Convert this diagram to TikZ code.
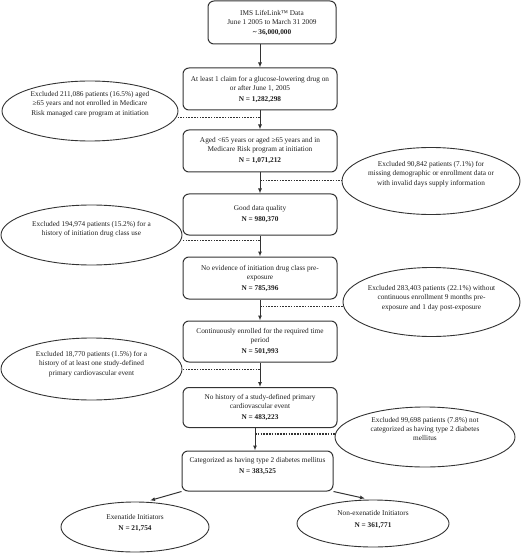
\documentclass[tikz,border=0pt]{standalone}
\usepackage{fontspec}
\setmainfont{Liberation Serif}
\usetikzlibrary{arrows.meta,shapes.geometric}
\definecolor{linec}{HTML}{333333}
\definecolor{textc}{HTML}{1E1E1E}
\begin{document}
\begin{tikzpicture}[x=1pt,y=-1pt,
  box/.style={draw=linec, line width=1pt, rounded corners=6pt, minimum width=154pt,
    inner sep=0pt, align=center, text=textc, font=\fontsize{7.3}{9}\selectfont},
  exc/.style={ellipse, draw=linec, line width=0.9pt, inner sep=0pt},
  txt/.style={align=center, text=textc, inner sep=0pt, font=\fontsize{7.3}{9.3}\selectfont},
  arr/.style={draw=linec, line width=1pt, -{Latex[length=5pt,width=4pt]}},
  dotl/.style={draw=linec, line width=1.7pt, dash pattern=on 1.6pt off 1.2pt}]
\useasboundingbox (0,0) rectangle (520,553);

% main boxes
\node[box, minimum width=128pt, minimum height=43pt] (b1) at (272,22.5)
  {IMS LifeLink™ Data\\ June 1 2005 to March 31 2009\\[1pt] \textbf{\textasciitilde\ 36,000,000}};
\node[box, minimum height=42pt] (b2) at (260,89)
  {At least 1 claim for a glucose-lowering drug on\\ or after June 1, 2005\\[2pt] \textbf{N = 1,282,298}};
\node[box, minimum height=42pt] (b3) at (260,151)
  {Aged <65 years or aged ≥65 years and in\\ Medicare Risk program at initiation\\[2pt] \textbf{N = 1,071,212}};
\node[box, minimum height=41pt] (b4) at (260,214.5)
  {Good data quality\\[2pt] \textbf{N = 980,370}};
\node[box, minimum height=42pt] (b5) at (260,278)
  {No evidence of initiation drug class pre-\\ exposure\\[2pt] \textbf{N = 785,396}};
\node[box, minimum height=41pt] (b6) at (260,341.5)
  {Continuously enrolled for the required time\\ period\\[2pt] \textbf{N = 501,993}};
\node[box, minimum height=40pt] (b7) at (260,407.5)
  {No history of a study-defined primary\\ cardiovascular event\\[2pt] \textbf{N = 483,223}};
\node[box, minimum width=151pt, minimum height=40pt] (b8) at (257.5,471) {};
\node[txt] (b8t) at (257.5,466) {Categorized as having type 2 diabetes mellitus\\[2pt] \textbf{N = 383,525}};

% exclusion ellipses
\node[exc, minimum width=176pt, minimum height=60pt] (e1) at (90,111) {};
\node[txt] (e1t) at (90,104) {Excluded 211,086 patients (16.5\%) aged\\ ≥65 years and not enrolled in Medicare\\ Risk managed care program at initiation};
\node[exc, minimum width=178pt, minimum height=67pt] (r1) at (431,181) {};
\node[txt] (r1t) at (431,174) {Excluded 90,842 patients (7.1\%) for\\ missing demographic or enrollment data or\\ with invalid days supply information};
\node[exc, minimum width=181pt, minimum height=60pt] (e2) at (91.5,235) {};
\node[txt] (e2t) at (91.5,229) {Excluded 194,974 patients (15.2\%) for a\\ history of initiation drug class use};
\node[exc, minimum width=177pt, minimum height=69pt] (r2) at (431.5,302) {};
\node[txt] (r2t) at (431.5,298) {Excluded 283,403 patients (22.1\%) without\\ continuous enrollment 9 months pre-\\ exposure and 1 day post-exposure};
\node[exc, minimum width=181pt, minimum height=62pt] (e3) at (91.5,369) {};
\node[txt] (e3t) at (91.5,364) {Excluded 18,770 patients (1.5\%) for a\\ history of at least one study-defined\\ primary cardiovascular event};
\node[exc, minimum width=180pt, minimum height=60pt] (r3) at (425,437) {};
\node[txt] (r3t) at (425,429) {Excluded 99,698 patients (7.8\%) not\\ categorized as having type 2 diabetes\\ mellitus};

% outcome ellipses
\node[exc, minimum width=148pt, minimum height=50pt] (ex) at (135,527) {};
\node[txt] (ext) at (135,523) {Exenatide Initiators\\[2pt] \textbf{N = 21,754}};
\node[exc, minimum width=152pt, minimum height=47pt] (nx) at (373,523.5) {};
\node[txt] (nxt) at (373,519.5) {Non-exenatide Initiators\\[2pt] \textbf{N = 361,771}};

% vertical arrows
\draw[arr] (b1.south -| b2.north) -- (b2.north);
\draw[arr] (b2.south) -- (b3.north);
\draw[arr] (b3.south) -- (b4.north);
\draw[arr] (b4.south) -- (b5.north);
\draw[arr] (b5.south) -- (b6.north);
\draw[arr] (b6.south) -- (b7.north);
\coordinate (s7) at ([xshift=-5pt]b7.south);
\draw[arr] (s7) -- (s7 |- b8.north);

% dotted exclusion lines
\coordinate (j1) at ([yshift=-7pt]b2.south);
\draw[dotl] (j1) -- (j1 -| e1.east);
\coordinate (j2) at ([yshift=-8pt]b3.south);
\draw[dotl] (j2) -- (j2 -| r1.west);
\coordinate (j3) at ([yshift=-5pt]b4.south);
\draw[dotl] (j3) -- (j3 -| e2.east);
\coordinate (j4) at ([yshift=-7pt]b5.south);
\draw[dotl] (j4) -- (j4 -| r2.west);
\coordinate (j5) at ([yshift=-7pt]b6.south);
\draw[dotl] (j5) -- (j5 -| e3.east);
\coordinate (j6) at ([yshift=-6pt]s7);
\draw[dotl] (j6) -- (j6 -| r3.west);

% split arrows
\coordinate (ax) at (150,500.5);
\coordinate (anx) at (365,498.5);
\draw[arr] (b8.south west) -- (ax);
\draw[arr] (b8.south east) -- (anx);
\end{tikzpicture}
\end{document}
